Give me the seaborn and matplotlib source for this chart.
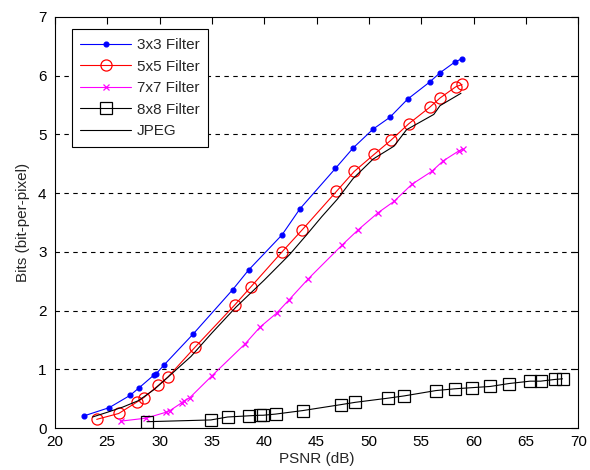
import matplotlib
matplotlib.use("Agg")
import matplotlib.pyplot as plt
import seaborn as sns
import pandas as pd

x3 = [22.8, 25.2, 27.2, 28.0, 29.5, 29.7, 30.4, 33.2, 37.0, 38.5, 41.7, 43.4, 46.8, 48.5, 50.4, 52.0, 53.7, 55.8, 56.8, 58.2, 58.9]
y3 = [0.21, 0.35, 0.56, 0.68, 0.91, 0.93, 1.07, 1.60, 2.36, 2.69, 3.29, 3.73, 4.42, 4.77, 5.09, 5.29, 5.60, 5.89, 6.05, 6.23, 6.29]

x5 = [24.0, 26.1, 27.8, 28.5, 29.9, 30.8, 33.4, 37.2, 38.7, 41.7, 43.6, 46.9, 48.6, 50.5, 52.1, 53.8, 55.8, 56.8, 58.3, 58.9]
y5 = [0.15, 0.25, 0.44, 0.52, 0.73, 0.87, 1.38, 2.10, 2.40, 3.00, 3.37, 4.03, 4.37, 4.66, 4.90, 5.18, 5.46, 5.62, 5.81, 5.85]

x7 = [26.3, 28.7, 30.6, 31.0, 32.1, 32.3, 32.9, 35.0, 38.2, 39.6, 41.2, 42.4, 44.2, 47.4, 49.0, 50.9, 52.4, 54.1, 56.0, 57.1, 58.6, 59.0]
y7 = [0.12, 0.17, 0.27, 0.30, 0.43, 0.46, 0.52, 0.89, 1.44, 1.72, 1.96, 2.19, 2.54, 3.11, 3.38, 3.67, 3.86, 4.15, 4.37, 4.55, 4.72, 4.75]

x8 = [28.8, 34.9, 36.5, 38.5, 39.6, 39.9, 41.1, 43.7, 47.3, 48.7, 51.8, 53.4, 56.4, 58.2, 59.9, 61.6, 63.4, 65.4, 66.4, 67.8, 68.5]
y8 = [0.11, 0.14, 0.19, 0.21, 0.22, 0.22, 0.24, 0.30, 0.40, 0.44, 0.51, 0.55, 0.64, 0.67, 0.69, 0.71, 0.76, 0.80, 0.80, 0.83, 0.84]

xj = [23.6, 25.0, 26.5, 28.0, 29.5, 31.0, 33.0, 35.0, 37.3, 40.0, 42.4, 44.0, 45.5, 47.0, 48.5, 50.4, 52.4, 53.6, 56.2, 56.8, 58.8]
yj = [0.19, 0.27, 0.36, 0.47, 0.66, 0.90, 1.22, 1.62, 2.06, 2.52, 2.95, 3.28, 3.60, 3.90, 4.25, 4.58, 4.80, 5.08, 5.34, 5.49, 5.70]

labels = ["3x3 Filter", "5x5 Filter", "7x7 Filter", "8x8 Filter", "JPEG"]
xticks = [20, 25, 30, 35, 40, 45, 50, 55, 60, 65, 70]
yticks = [0, 1, 2, 3, 4, 5, 6, 7]

sns.set_style("white")
plt.rcParams['font.family'] = ['Liberation Sans', 'DejaVu Sans']

fig = plt.figure(figsize=(5.9, 4.7), dpi=100)
ax = fig.add_axes([0.093, 0.089, 0.887, 0.875])

styles = [
    dict(color="#0000ff", marker="o", markersize=3.5, markerfacecolor="#0000ff", markeredgecolor="#0000ff"),
    dict(color="#ff0000", marker="o", markersize=8, markerfacecolor="none", markeredgecolor="#ff0000"),
    dict(color="#ff00ff", marker="x", markersize=5, markeredgecolor="#ff00ff"),
    dict(color="#000000", marker="s", markersize=8, markerfacecolor="none", markeredgecolor="#000000"),
    dict(color="#000000", marker=None),
]
series = [(x3, y3), (x5, y5), (x7, y7), (x8, y8), (xj, yj)]

for (xs, ys), lab, st in zip(series, labels, styles):
    df = pd.DataFrame({"x": xs, "y": ys})
    sns.lineplot(data=df, x="x", y="y", ax=ax, sort=False, label=lab,
                 linewidth=0.8, markeredgewidth=0.9, **st)

ax.set_xlim(20, 70)
ax.set_ylim(0, 7)
ax.set_xticks(xticks)
ax.set_yticks(yticks)
ax.set_xlabel("PSNR (dB)", fontsize=11, labelpad=2)
ax.set_ylabel("Bits (bit-per-pixel)", fontsize=11, labelpad=6)
ax.tick_params(axis="both", direction="in", length=5, width=0.8, labelsize=11,
               top=True, right=True, color="black", labelcolor="black")
ax.tick_params(axis="y", pad=6)
ax.tick_params(axis="x", pad=5)
for y in [1, 2, 3, 4, 5, 6]:
    ax.axhline(y, color="black", linestyle=(0, (4, 4)), linewidth=0.8, zorder=0)
for sp in ax.spines.values():
    sp.set_color("black")
    sp.set_linewidth(0.8)

leg = ax.legend(loc="upper left", bbox_to_anchor=(0.018, 0.988), fontsize=11,
                handlelength=3.3, frameon=True, fancybox=False, edgecolor="black",
                framealpha=1, borderpad=0.55, labelspacing=0.5, handletextpad=0.4)
leg.get_frame().set_linewidth(0.8)

fig.savefig("out.png", dpi=100)
